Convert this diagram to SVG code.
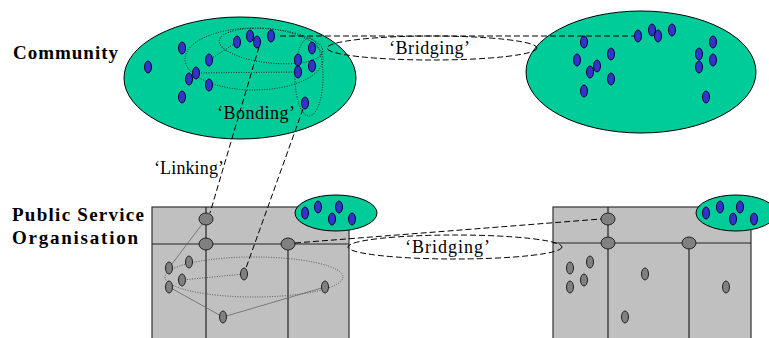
<svg xmlns="http://www.w3.org/2000/svg" width="769" height="338" viewBox="0 0 769 338">
<style>
.green{fill:#00CC99;stroke:#000;stroke-width:1}
.b{fill:#3333CC;stroke:#000033;stroke-width:1}
.g{fill:#808080;stroke:#222;stroke-width:1}
.box{fill:#C0C0C0;stroke:#333;stroke-width:1.2}
.ln{stroke:#222;stroke-width:1.2;fill:none}
.dot{fill:none;stroke:#222;stroke-width:1;stroke-dasharray:1,1.5}
.dotg{fill:none;stroke:#555;stroke-width:1;stroke-dasharray:1,1.5}
.thin{fill:none;stroke:#666;stroke-width:0.8}
.dash{fill:none;stroke:#000;stroke-width:1;stroke-dasharray:6,3}
.lbl{font-family:"Liberation Serif","Times New Roman",serif;font-weight:bold;font-size:19px;fill:#000}
.t{font-family:"Liberation Serif","Times New Roman",serif;font-size:18px;fill:#000}
</style>

<g id="label-community"><text class="lbl" x="13" y="59" textLength="105" lengthAdjust="spacing">Community</text></g>
<g id="label-pso">
<text class="lbl" x="12" y="221" textLength="132" lengthAdjust="spacing">Public Service</text>
<text class="lbl" x="12" y="244" textLength="126" lengthAdjust="spacing">Organisation</text>
</g>

<g id="community-left">
<ellipse class="green" cx="240" cy="78" rx="116" ry="61"/>
<ellipse class="dot" cx="254" cy="59" rx="69" ry="31"/>
<ellipse class="dot" cx="271" cy="46" rx="52" ry="17" transform="rotate(6 271 46)"/>
<ellipse class="dot" cx="309" cy="77" rx="14" ry="39"/>
<line class="dot" x1="196" y1="73" x2="298" y2="72"/>
<line class="dot" x1="209" y1="60" x2="237" y2="42"/>
<ellipse class="b" cx="148" cy="67" rx="3.5" ry="6"/>
<ellipse class="b" cx="182" cy="48" rx="3.5" ry="6"/>
<ellipse class="b" cx="209" cy="60" rx="3.5" ry="6"/>
<ellipse class="b" cx="196" cy="73" rx="3.5" ry="6"/>
<ellipse class="b" cx="189" cy="79" rx="3.5" ry="6"/>
<ellipse class="b" cx="209" cy="85" rx="3.5" ry="6"/>
<ellipse class="b" cx="182" cy="97" rx="3.5" ry="6"/>
<ellipse class="b" cx="237" cy="42" rx="3.5" ry="6"/>
<ellipse class="b" cx="250" cy="36" rx="3.5" ry="6"/>
<ellipse class="b" cx="257" cy="42" rx="3.5" ry="6"/>
<ellipse class="b" cx="271" cy="36" rx="3.5" ry="6"/>
<ellipse class="b" cx="312" cy="48" rx="3.5" ry="6"/>
<ellipse class="b" cx="298" cy="60" rx="3.5" ry="6"/>
<ellipse class="b" cx="312" cy="66" rx="3.5" ry="6"/>
<ellipse class="b" cx="298" cy="72" rx="3.5" ry="6"/>
<ellipse class="b" cx="305" cy="103" rx="3.5" ry="6"/>
<text class="t" x="217" y="119" textLength="78" lengthAdjust="spacing">‘Bonding’</text>
</g>

<g id="community-right">
<ellipse class="green" cx="641" cy="72" rx="115" ry="61"/>
<ellipse class="b" cx="584" cy="42" rx="3.5" ry="6"/>
<ellipse class="b" cx="577" cy="60" rx="3.5" ry="6"/>
<ellipse class="b" cx="597" cy="66" rx="3.5" ry="6"/>
<ellipse class="b" cx="590" cy="72" rx="3.5" ry="6"/>
<ellipse class="b" cx="611" cy="54" rx="3.5" ry="6"/>
<ellipse class="b" cx="611" cy="79" rx="3.5" ry="6"/>
<ellipse class="b" cx="584" cy="91" rx="3.5" ry="6"/>
<ellipse class="b" cx="638" cy="36" rx="3.5" ry="6"/>
<ellipse class="b" cx="652" cy="30" rx="3.5" ry="6"/>
<ellipse class="b" cx="658" cy="36" rx="3.5" ry="6"/>
<ellipse class="b" cx="672" cy="30" rx="3.5" ry="6"/>
<ellipse class="b" cx="713" cy="42" rx="3.5" ry="6"/>
<ellipse class="b" cx="699" cy="54" rx="3.5" ry="6"/>
<ellipse class="b" cx="713" cy="60" rx="3.5" ry="6"/>
<ellipse class="b" cx="699" cy="67" rx="3.5" ry="6"/>
<ellipse class="b" cx="706" cy="97" rx="3.5" ry="6"/>
</g>

<g id="org-left">
<rect class="box" x="152" y="207" width="197" height="140"/>
<line class="ln" x1="152" y1="244" x2="349" y2="244"/>
<line class="ln" x1="206" y1="207" x2="206" y2="338"/>
<line class="ln" x1="288" y1="244" x2="288" y2="338"/>
<ellipse class="dotg" cx="254" cy="277" rx="89" ry="20"/>
<line class="thin" x1="206" y1="219" x2="169" y2="268"/>
<line class="dotg" x1="182" y1="280" x2="244" y2="274"/>
<line class="thin" x1="169" y1="287" x2="223" y2="317"/>
<line class="thin" x1="223" y1="317" x2="325" y2="287"/>
<ellipse class="g" cx="206" cy="219" rx="7" ry="6"/>
<ellipse class="g" cx="206" cy="244" rx="7" ry="6"/>
<ellipse class="g" cx="288" cy="244" rx="7" ry="6"/>
<ellipse class="g" cx="169" cy="268" rx="3.5" ry="6"/>
<ellipse class="g" cx="189" cy="262" rx="3.5" ry="6"/>
<ellipse class="g" cx="182" cy="280" rx="3.5" ry="6"/>
<ellipse class="g" cx="169" cy="287" rx="3.5" ry="6"/>
<ellipse class="g" cx="244" cy="274" rx="3.5" ry="6"/>
<ellipse class="g" cx="325" cy="287" rx="3.5" ry="6"/>
<ellipse class="g" cx="223" cy="317" rx="3.5" ry="6"/>
<ellipse class="green" cx="336" cy="213" rx="41" ry="18"/>
<ellipse class="b" cx="305" cy="213" rx="3.5" ry="6"/>
<ellipse class="b" cx="318" cy="207" rx="3.5" ry="6"/>
<ellipse class="b" cx="339" cy="207" rx="3.5" ry="6"/>
<ellipse class="b" cx="332" cy="219" rx="3.5" ry="6"/>
<ellipse class="b" cx="352" cy="219" rx="3.5" ry="6"/>
</g>

<g id="org-right">
<rect class="box" x="553" y="207" width="198" height="140"/>
<line class="ln" x1="553" y1="243" x2="751" y2="243"/>
<line class="ln" x1="608" y1="207" x2="608" y2="338"/>
<line class="ln" x1="689" y1="243" x2="689" y2="338"/>
<ellipse class="g" cx="608" cy="219" rx="7" ry="6"/>
<ellipse class="g" cx="608" cy="243" rx="7" ry="6"/>
<ellipse class="g" cx="689" cy="243" rx="7" ry="6"/>
<ellipse class="g" cx="570" cy="268" rx="3.5" ry="6"/>
<ellipse class="g" cx="590" cy="262" rx="3.5" ry="6"/>
<ellipse class="g" cx="584" cy="280" rx="3.5" ry="6"/>
<ellipse class="g" cx="570" cy="287" rx="3.5" ry="6"/>
<ellipse class="g" cx="645" cy="274" rx="3.5" ry="6"/>
<ellipse class="g" cx="726" cy="287" rx="3.5" ry="6"/>
<ellipse class="g" cx="625" cy="317" rx="3.5" ry="6"/>
<ellipse class="green" cx="736" cy="213" rx="40" ry="18"/>
<ellipse class="b" cx="706" cy="213" rx="3.5" ry="6"/>
<ellipse class="b" cx="720" cy="207" rx="3.5" ry="6"/>
<ellipse class="b" cx="740" cy="207" rx="3.5" ry="6"/>
<ellipse class="b" cx="733" cy="219" rx="3.5" ry="6"/>
<ellipse class="b" cx="754" cy="219" rx="3.5" ry="6"/>
</g>

<g id="connectors">
<line class="dash" x1="280" y1="36" x2="634" y2="36"/>
<ellipse class="dash" cx="432" cy="48" rx="105" ry="12"/>
<text class="t" x="389" y="54" textLength="81" lengthAdjust="spacing">‘Bridging’</text>
<line class="dash" x1="295" y1="243" x2="601" y2="219"/>
<ellipse class="dash" cx="455" cy="247" rx="107" ry="12"/>
<text class="t" x="405" y="253" textLength="85" lengthAdjust="spacing">‘Bridging’</text>
<line class="dash" x1="259" y1="47" x2="210" y2="213"/>
<line class="dash" x1="303" y1="109" x2="246" y2="268"/>
<text class="t" x="154" y="174" textLength="70" lengthAdjust="spacing">‘Linking’</text>
</g>
</svg>
